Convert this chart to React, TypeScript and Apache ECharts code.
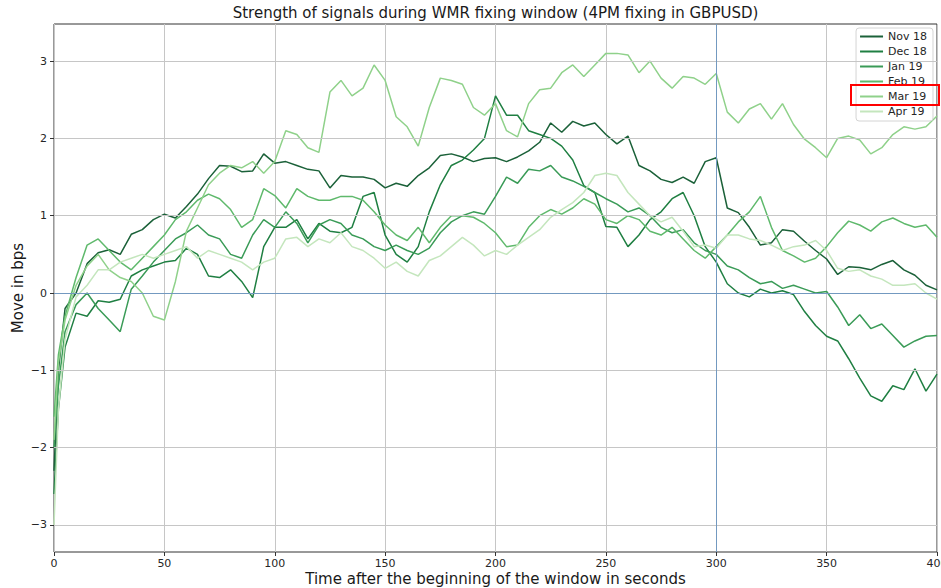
import React, { useEffect, useRef } from "react";
import * as echarts from "echarts";

// time after the beginning of the window (seconds)
const SECONDS = [
  0, 2, 5, 10, 15, 20, 25, 30, 35, 40,
  45, 50, 55, 60, 65, 70, 75, 80, 85, 90,
  95, 100, 105, 110, 115, 120, 125, 130, 135, 140,
  145, 150, 155, 160, 165, 170, 175, 180, 185, 190,
  195, 200, 205, 210, 215, 220, 225, 230, 235, 240,
  245, 250, 255, 260, 265, 270, 275, 280, 285, 290,
  295, 300, 305, 310, 315, 320, 325, 330, 335, 340,
  345, 350, 355, 360, 365, 370, 375, 380, 385, 390,
  395, 400,
];

const NOV_18 = [
  -2.3, -1.0, -0.2, 0.0, 0.38, 0.52, 0.56, 0.5, 0.76, 0.82,
  0.95, 1.02, 0.97, 1.12, 1.28, 1.48, 1.65, 1.64, 1.57, 1.58,
  1.8, 1.68, 1.7, 1.65, 1.6, 1.58, 1.36, 1.52, 1.5, 1.5,
  1.47, 1.36, 1.42, 1.38, 1.52, 1.62, 1.78, 1.8, 1.76, 1.7,
  1.74, 1.75, 1.7, 1.76, 1.84, 1.95, 2.2, 2.08, 2.22, 2.16,
  2.2, 2.05, 1.93, 2.03, 1.65, 1.58, 1.47, 1.43, 1.5, 1.42,
  1.7, 1.75, 1.1, 1.04, 0.85, 0.62, 0.65, 0.82, 0.8, 0.67,
  0.55, 0.44, 0.24, 0.34, 0.33, 0.3, 0.37, 0.42, 0.3, 0.23,
  0.1, 0.04,
];

const DEC_18 = [
  -2.6, -1.5, -0.7, -0.26, -0.3, -0.1, -0.12, -0.08, 0.22, 0.3,
  0.35, 0.4, 0.42, 0.58, 0.5, 0.22, 0.2, 0.3, 0.15, -0.06,
  0.6, 0.85, 0.85, 0.95, 0.7, 0.9, 0.8, 0.78, 0.85, 1.25,
  1.3, 0.75, 0.5, 0.4, 0.6, 1.05, 1.4, 1.65, 1.72, 1.85,
  2.0, 2.55, 2.3, 2.3, 2.1, 2.05, 2.0, 1.9, 1.72, 1.39,
  1.3, 0.86, 0.85, 0.6, 0.75, 0.95, 1.05, 1.22, 1.3, 1.0,
  0.6, 0.4, 0.12, 0.0, -0.05, 0.05, 0.0, 0.03, -0.02, -0.24,
  -0.42, -0.56, -0.62, -0.85, -1.1, -1.33, -1.4, -1.2, -1.25, -0.98,
  -1.27, -1.05,
];

const JAN_19 = [
  -2.0, -1.2, -0.5, -0.15, 0.0, -0.2, -0.35, -0.5, 0.05, 0.22,
  0.4, 0.55, 0.7, 0.78, 0.88, 0.75, 0.7, 0.5, 0.45, 0.75,
  0.95, 0.85, 1.05, 0.9, 0.65, 0.88, 0.95, 0.9, 0.75, 0.7,
  0.6, 0.55, 0.62, 0.55, 0.5, 0.58, 0.78, 0.92, 1.0, 1.05,
  1.02, 1.25, 1.5, 1.42, 1.6, 1.58, 1.65, 1.5, 1.45, 1.38,
  1.3, 1.22, 1.15, 1.05, 1.1, 1.0, 0.85, 0.78, 0.82, 0.65,
  0.55, 0.5, 0.35, 0.3, 0.2, 0.12, 0.15, 0.06, 0.1, 0.05,
  0.0, 0.02, -0.18, -0.42, -0.28, -0.46, -0.4, -0.55, -0.7, -0.62,
  -0.56, -0.55,
];

const FEB_19 = [
  -1.6, -0.8, -0.3, 0.2, 0.62, 0.7, 0.55, 0.4, 0.3, 0.45,
  0.6, 0.75, 0.95, 1.05, 1.2, 1.28, 1.22, 1.08, 0.85, 0.95,
  1.35, 1.26, 1.1, 1.35, 1.25, 1.2, 1.2, 1.25, 1.25, 1.2,
  1.05, 0.88, 0.75, 0.68, 0.85, 0.65, 0.85, 1.0, 1.0, 0.98,
  0.9, 0.78, 0.6, 0.62, 0.85, 1.0, 1.08, 1.02, 1.1, 1.22,
  1.15, 0.95, 0.9, 1.0, 0.95, 0.8, 0.75, 0.85, 0.7, 0.55,
  0.45, 0.6, 0.75, 0.92, 1.05, 1.25, 0.85, 0.55, 0.48, 0.4,
  0.45, 0.6, 0.78, 0.93, 0.88, 0.8, 0.92, 0.97, 0.9, 0.85,
  0.88, 0.72,
];

const MAR_19 = [
  -1.9, -0.9, -0.35, 0.1, 0.35, 0.5, 0.3, 0.2, 0.15, 0.0,
  -0.3, -0.35, 0.15, 0.8, 1.1, 1.4, 1.55, 1.65, 1.62, 1.7,
  1.55, 1.7, 2.1, 2.05, 1.88, 1.82, 2.6, 2.75, 2.55, 2.65,
  2.95, 2.75, 2.28, 2.15, 1.9, 2.4, 2.78, 2.75, 2.7, 2.4,
  2.3, 2.45, 2.1, 2.02, 2.45, 2.63, 2.65, 2.85, 2.95, 2.8,
  2.95, 3.1, 3.1, 3.08, 2.85, 3.0, 2.78, 2.65, 2.8, 2.78,
  2.7, 2.84, 2.34, 2.2, 2.38, 2.45, 2.25, 2.45, 2.18, 1.99,
  1.88, 1.75, 2.0, 2.03, 1.98, 1.8, 1.88, 2.05, 2.15, 2.12,
  2.15, 2.29,
];

const APR_19 = [
  -3.0, -1.5, -0.6, -0.05, 0.1, 0.3, 0.3, 0.4, 0.45, 0.5,
  0.45, 0.5, 0.55, 0.6, 0.45, 0.55, 0.5, 0.45, 0.4, 0.3,
  0.4, 0.45, 0.7, 0.72, 0.6, 0.7, 0.65, 0.78, 0.6, 0.55,
  0.45, 0.32, 0.4, 0.28, 0.22, 0.42, 0.48, 0.6, 0.72, 0.62,
  0.48, 0.55, 0.5, 0.62, 0.72, 0.82, 0.98, 1.08, 1.17, 1.3,
  1.52, 1.55, 1.52, 1.3, 1.15, 1.0, 0.92, 0.98, 0.8, 0.6,
  0.62, 0.58, 0.75, 0.75, 0.7, 0.68, 0.62, 0.55, 0.6, 0.62,
  0.68, 0.55, 0.32, 0.28, 0.3, 0.22, 0.18, 0.1, 0.1, 0.12,
  0.0, -0.08,
];

const SERIES_NAMES = ["Nov 18", "Dec 18", "Jan 19", "Feb 19", "Mar 19", "Apr 19"];
const SERIES_VALUES = [NOV_18, DEC_18, JAN_19, FEB_19, MAR_19, APR_19];
const SERIES_COLORS = ["#1b6139", "#1f7f42", "#3a9b57", "#5fb96c", "#8fd18a", "#c4e6bd"];

const X_MIN = 0;
const X_MAX = 400;
const Y_MIN = -3.35;
const Y_MAX = 3.48;
const Y_TICKS = [-3, -2, -1, 0, 1, 2, 3];
const ZERO_LINE = 0;
const FIXING_TIME = 300;

const FONT = '"DejaVu Sans", "Liberation Sans", sans-serif';
const TEXT_COLOR = "#262626";
const GRID_COLOR = "#c6c6c6";
const REF_COLOR = "#7399c0";

const fmtMinus = (v: number) => (v < 0 ? "\u2212" + Math.abs(v) : String(v));

export default function App() {
  const ref = useRef<HTMLDivElement>(null);

  useEffect(() => {
    if (!ref.current) return;
    const chart = echarts.init(ref.current, null, { renderer: "svg" });

    const lineSeries = SERIES_NAMES.map((name, i) => ({
      name,
      type: "line",
      data: SECONDS.map((t, k) => [t, SERIES_VALUES[i][k]]),
      showSymbol: false,
      symbol: "none",
      color: SERIES_COLORS[i],
      lineStyle: { width: 1.5, color: SERIES_COLORS[i] },
      z: 3,
    }));

    const gridSeries = {
      name: "grid",
      type: "line",
      data: [],
      silent: true,
      z: 1,
      markLine: {
        silent: true,
        symbol: ["none", "none"],
        animation: false,
        label: { show: false },
        data: Y_TICKS.filter((v) => v !== ZERO_LINE).map((v) => ({
          yAxis: v,
          lineStyle: { color: GRID_COLOR, width: 1, type: "solid" },
        })),
      },
    };

    const refSeries = {
      name: "refs",
      type: "line",
      data: [],
      silent: true,
      z: 10,
      markLine: {
        silent: true,
        symbol: ["none", "none"],
        animation: false,
        label: { show: false },
        emphasis: { disabled: true },
        lineStyle: { color: REF_COLOR, width: 1, type: "solid", opacity: 1 },
        data: [
          [{ coord: [X_MIN, ZERO_LINE] }, { coord: [X_MAX, ZERO_LINE] }],
          [{ coord: [FIXING_TIME, Y_MIN] }, { coord: [FIXING_TIME, Y_MAX] }],
        ],
      },
    };

    const option = {
      animation: false,
      backgroundColor: "#ffffff",
      textStyle: { fontFamily: FONT },
      grid: {
        show: true,
        left: 54,
        right: 4,
        top: 24,
        bottom: 36,
        containLabel: false,
        outerBoundsMode: "none",
        borderColor: "#333333",
        borderWidth: 1,
        backgroundColor: "transparent",
      },
      xAxis: {
        type: "value",
        min: X_MIN,
        max: X_MAX,
        interval: 50,
        name: "Time after the beginning of the window in seconds",
        nameLocation: "middle",
        nameGap: 19,
        nameMoveOverlap: false,
        nameTextStyle: { fontSize: 15, color: "#1a1a1a", fontFamily: FONT },
        axisLine: { show: false, onZero: false },
        axisTick: { show: true, length: 4, lineStyle: { color: "#333333" } },
        axisLabel: { fontSize: 11, color: TEXT_COLOR, margin: 6, fontFamily: FONT },
        splitLine: { show: true, lineStyle: { color: GRID_COLOR, width: 1 } },
      },
      yAxis: {
        type: "value",
        min: Y_MIN,
        max: Y_MAX,
        name: "Move in bps",
        nameLocation: "middle",
        nameGap: 29,
        nameMoveOverlap: false,
        nameTextStyle: { fontSize: 15, color: "#1a1a1a", fontFamily: FONT },
        axisLine: { show: false, onZero: false },
        axisTick: { show: true, length: 4, customValues: Y_TICKS, lineStyle: { color: "#333333" } },
        axisLabel: {
          fontSize: 11,
          color: TEXT_COLOR,
          margin: 7,
          fontFamily: FONT,
          customValues: Y_TICKS,
          formatter: (v: number) => fmtMinus(v),
        },
        splitLine: { show: false },
      },
      legend: {
        data: SERIES_NAMES,
        orient: "vertical",
        right: 8,
        top: 28,
        icon: "rect",
        itemWidth: 23,
        itemHeight: 2,
        itemGap: 2,
        padding: [2, 6, 3, 4],
        backgroundColor: "#ffffff",
        borderColor: "#d4d4d4",
        borderWidth: 1,
        borderRadius: 3,
        textStyle: { fontSize: 11, color: TEXT_COLOR, fontFamily: FONT, lineHeight: 13 },
        selectedMode: false,
      },
      graphic: [
        {
          type: "text",
          x: 495.5,
          y: 13,
          style: {
            text: "Strength of signals during WMR fixing window (4PM fixing in GBPUSD)",
            font: '15px "DejaVu Sans", sans-serif',
            fill: "#1a1a1a",
            align: "center",
            verticalAlign: "middle",
            textAlign: "center",
            textVerticalAlign: "middle",
          },
        },
        {
          type: "rect",
          z: 100,
          shape: { x: 851, y: 85, width: 88, height: 20 },
          style: { fill: "none", stroke: "#ff0000", lineWidth: 2 },
        },
      ],
      series: [gridSeries, refSeries, ...lineSeries],
    };

    chart.setOption(option as any);
    return () => chart.dispose();
  }, []);

  return (
    <div
      ref={ref}
      style={{ position: "fixed", left: 0, top: 0, width: 941, height: 588, background: "#fff" }}
    />
  );
}
